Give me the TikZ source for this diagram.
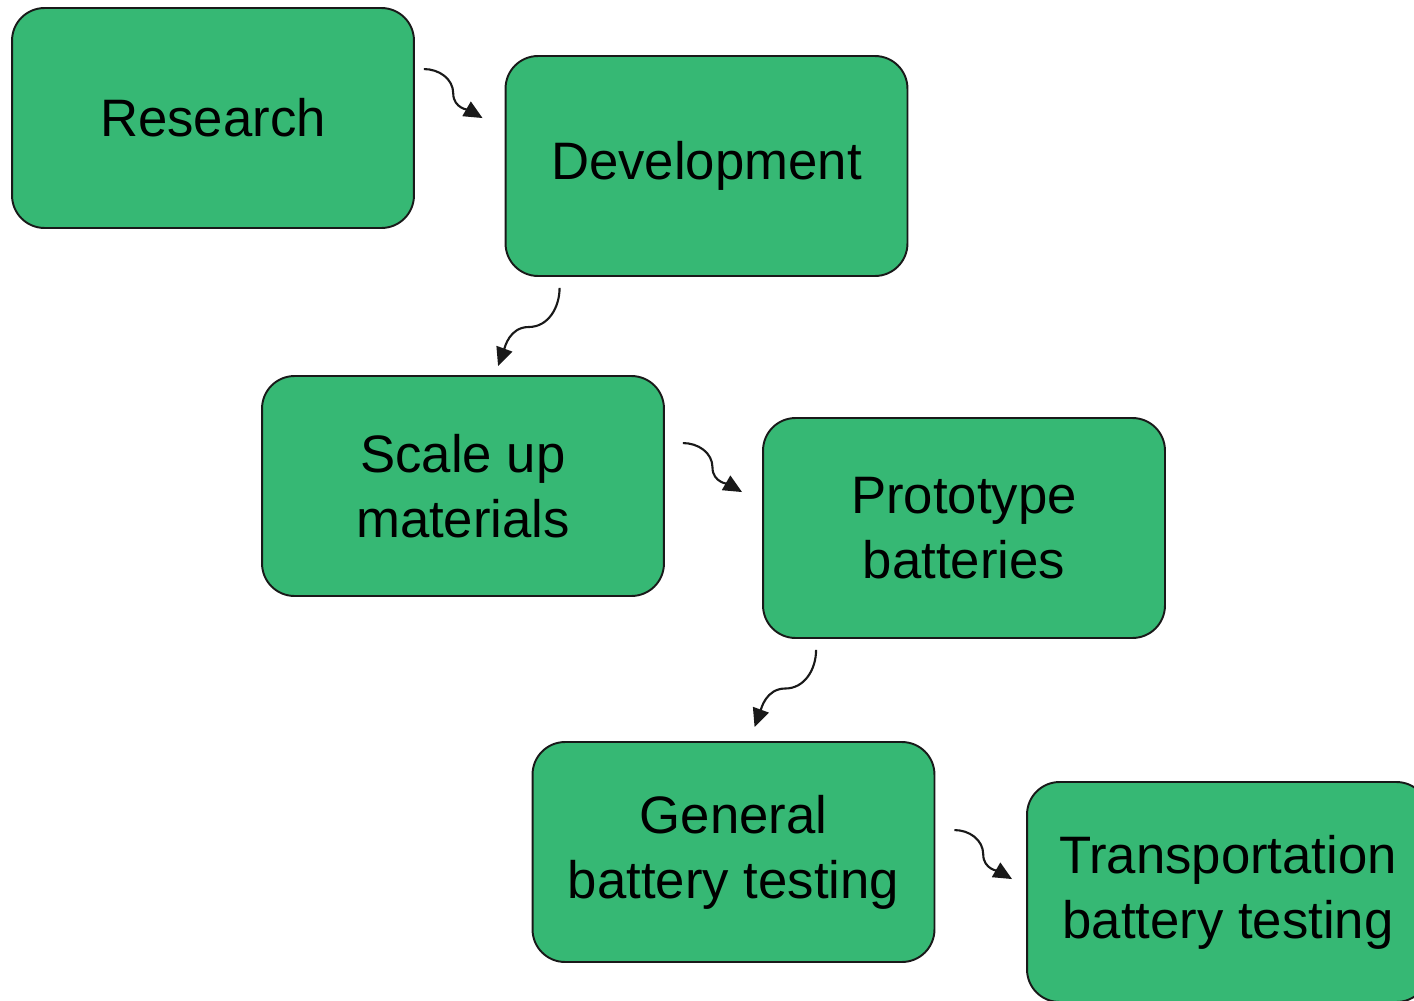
\documentclass[tikz,border=0pt]{standalone}
\usepackage{fontspec}
\setmainfont{Liberation Sans}
\usepackage{tikz}
\usetikzlibrary{arrows.meta,calc}

\definecolor{boxgreen}{RGB}{54,184,116}

\begin{document}
\begin{tikzpicture}[x=0.02cm,y=-0.02cm,
    stagebox/.style={draw=black!90,fill=boxgreen,line width=1.1pt,rounded corners=0.65cm,
        minimum width=8.04cm,minimum height=4.4cm,align=center,
        font=\fontsize{30}{37}\selectfont},
    flow/.style={-{Triangle[length=0.37cm,width=0.33cm]},line width=1.2pt,black!90}]
        \useasboundingbox (0,0) rectangle (1414,1001);

        \node[stagebox] (res) at (213,118) {Research};
        \node[stagebox] (dev) at (706.5,166) {Development};
        \node[stagebox] (scale) at (463,486) {Scale up\\ materials};
        \node[stagebox] (proto) at (964,528) {Prototype\\ batteries};
        \node[stagebox] (gen) at (733.5,852) {General\\ battery testing};
        \node[stagebox] (trans) at (1228,892) {Transportation\\ battery testing};

        % ends of the curly arrows
        \coordinate (a1s) at ($(res.north east)+(9,62)$);
        \coordinate (a1e) at ($(dev.north west)+(-22,63)$);
        \coordinate (a2s) at ($(dev.south west)+(55,11)$);
        \coordinate (a2e) at ($(scale.north west)+(237,-9)$);
        \coordinate (a3s) at ($(scale.north east)+(18,68)$);
        \coordinate (a3e) at ($(proto.north west)+(-20,75)$);
        \coordinate (a4s) at ($(proto.south west)+(54,11)$);
        \coordinate (a4e) at ($(gen.north west)+(223,-14)$);
        \coordinate (a5s) at ($(gen.north east)+(19,89)$);
        \coordinate (a5e) at ($(trans.north west)+(-14,98)$);

        \draw[flow] (a1s) to[out=0,in=90] ($(a1s)!.5!(a1e)$) to[out=-90,in=150] (a1e);
        \draw[flow] (a2s) to[out=-90,in=0] ($(a2s)!.5!(a2e)$) to[out=180,in=70] (a2e);
        \draw[flow] (a3s) to[out=0,in=90] ($(a3s)!.5!(a3e)$) to[out=-90,in=150] (a3e);
        \draw[flow] (a4s) to[out=-90,in=0] ($(a4s)!.5!(a4e)$) to[out=180,in=70] (a4e);
        \draw[flow] (a5s) to[out=0,in=90] ($(a5s)!.5!(a5e)$) to[out=-90,in=150] (a5e);
      \end{tikzpicture}
\end{document}
